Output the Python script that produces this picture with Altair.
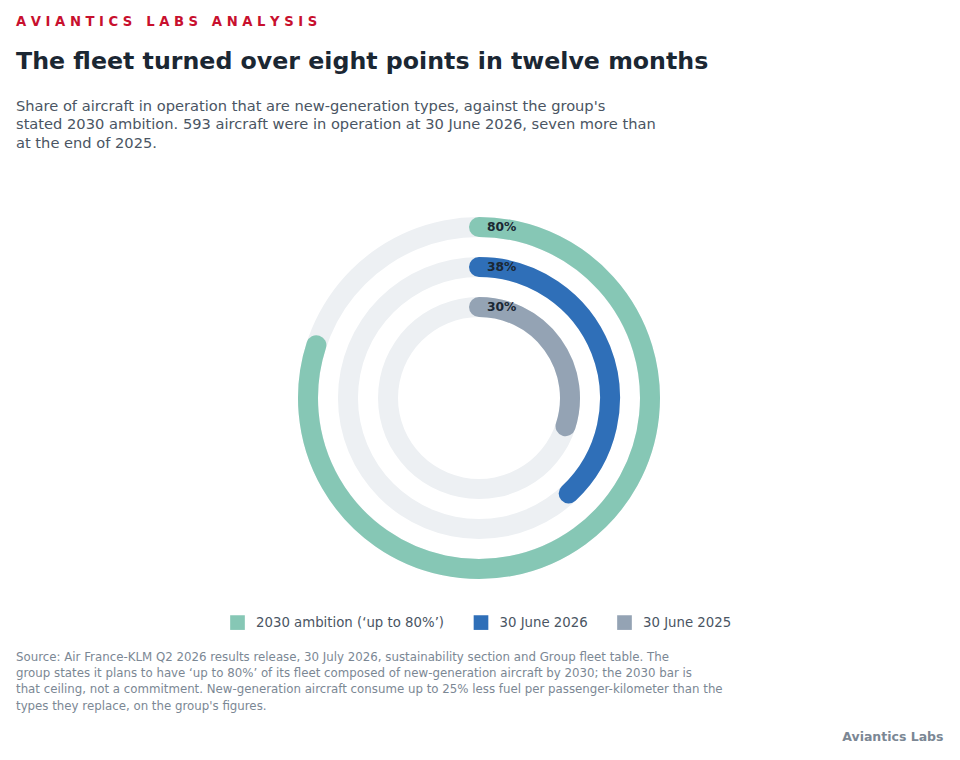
import math
import altair as alt
import pandas as pd

series = ["2030 ambition (\u2018up to 80%\u2019)", "30 June 2026", "30 June 2025"]
values = [80, 38, 30]
labels = ["80%", "38%", "30%"]
colors = ["#86c7b5", "#2f6fb8", "#94a3b4"]
ring_radius = [171, 131, 91]
track_color = "#edf0f3"

NB = "\u00a0"
kicker = (NB * 3).join(NB.join(list(w)) for w in ["AVIANTICS", "LABS", "ANALYSIS"])
title = "The fleet turned over eight points in twelve months"
subtitle = [
    "Share of aircraft in operation that are new-generation types, against the group's",
    "stated 2030 ambition. 593 aircraft were in operation at 30 June 2026, seven more than",
    "at the end of 2025.",
]
source = [
    "Source: Air France-KLM Q2 2026 results release, 30 July 2026, sustainability section and Group fleet table. The",
    "group states it plans to have \u2018up to 80%\u2019 of its fleet composed of new-generation aircraft by 2030; the 2030 bar is",
    "that ceiling, not a commitment. New-generation aircraft consume up to 25% less fuel per passenger-kilometer than the",
    "types they replace, on the group's figures.",
]
brand = "Aviantics Labs"

FONT = "DejaVu Sans"
W, H = 944, 744
CX, CY = 471, 390

df = pd.DataFrame({"series": series, "value": values, "label": labels})

theta_scale = alt.Scale(domain=[0, 100], range=[0, 2 * math.pi])
color_scale = alt.Scale(domain=series, range=colors)

layers = []
for s, r in zip(series, ring_radius):
    base = alt.Chart(df).transform_filter(alt.datum.series == s)
    track = base.mark_arc(radius=r + 10, radius2=r - 10, color=track_color).encode(
        theta=alt.Theta(datum=100, scale=theta_scale),
        theta2=alt.Theta2(datum=0),
        x=alt.value(CX), y=alt.value(CY),
    )
    prog = base.mark_arc(radius=r, radius2=r, strokeWidth=20, strokeJoin="round").encode(
        theta=alt.Theta("value:Q", scale=theta_scale),
        theta2=alt.Theta2(datum=0),
        color=alt.Color("series:N", scale=color_scale, title=None,
                        legend=alt.Legend(orient="none", direction="horizontal",
                                          legendX=222, legendY=607,
                                          symbolType="square", symbolSize=215,
                                          symbolStrokeWidth=0, symbolOpacity=1,
                                          labelFont=FONT, labelFontSize=13.3,
                                          labelColor="#4a5563", labelOffset=11,
                                          columnPadding=28.5, labelLimit=400)),
        stroke=alt.Stroke("series:N", scale=color_scale, legend=None),
        x=alt.value(CX), y=alt.value(CY),
    )
    txt = base.mark_text(radius=r, align="left", baseline="middle", dx=8,
                         font=FONT, fontSize=12.3, fontWeight="bold",
                         color="#1b2733").encode(
        theta=alt.Theta(datum=0, scale=theta_scale),
        text="label:N",
        x=alt.value(CX), y=alt.value(CY),
    )
    layers += [track, prog, txt]

one = pd.DataFrame({"k": [0]})

def text_line(t, x, y, size, color, weight="normal", align="left"):
    return alt.Chart(one).mark_text(text=t, align=align, baseline="alphabetic",
                                    font=FONT, fontSize=size, fontWeight=weight,
                                    color=color).encode(x=alt.value(x), y=alt.value(y))

layers.append(text_line(kicker, 8, 18, 13.2, "#c8102e", "bold"))
layers.append(text_line(title, 8, 61, 23.7, "#1b2733", "bold"))
for i, line in enumerate(subtitle):
    layers.append(text_line(line, 8, 102.8 + i * 18.4, 14.65, "#4a5563"))
for i, line in enumerate(source):
    layers.append(text_line(line, 8, 653 + i * 16.2, 11.8, "#7b8794"))
layers.append(text_line(brand, 935.5, 733, 12.5, "#7b8794", "bold", align="right"))

chart = alt.layer(*layers).properties(
    width=W, height=H, padding=0, autosize=alt.AutoSizeParams(type="none")
).configure(background="white").configure_view(stroke=None)

chart.save("out.html", embed_options={"renderer": "svg", "actions": False})
